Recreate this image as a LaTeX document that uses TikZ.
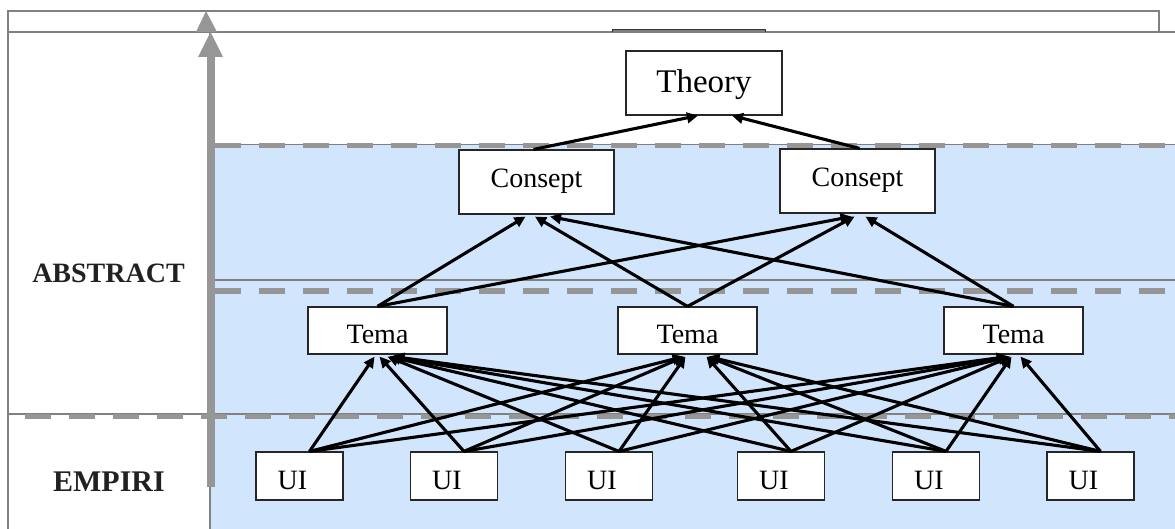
\documentclass[tikz,border=0pt]{standalone}
\usepackage{fontspec}
\setmainfont{Liberation Serif}
\usetikzlibrary{arrows.meta}
\definecolor{bluefill}{RGB}{209,230,252}
\definecolor{bargray}{RGB}{150,150,150}
\definecolor{linegray}{RGB}{128,128,128}
\begin{document}
\begin{tikzpicture}[x=1pt,y=-1pt,
  box/.style={draw=black!85, line width=1.2pt, fill=white, inner sep=0pt, font=\fontsize{28}{30}\selectfont},
  thinline/.style={draw=linegray, line width=1.5pt},
  dashline/.style={draw=bargray, line width=5.5pt, dash pattern=on 26pt off 18pt},
  conn/.style={draw=black, line width=3.1pt, -{Triangle[length=11pt,width=10.5pt]}},
  lvl/.style={font=\fontsize{28}{30}\selectfont\bfseries, text=black!87, inner sep=0pt}
]
\useasboundingbox (0,0) rectangle (1175,529);
\fill[bluefill] (210,145) rectangle (1175,529);
% frame lines
\draw[thinline] (8,529) -- (8,11) -- (1159,11) -- (1159,32);
\draw[thinline] (8,32) -- (1175,32);
\draw[thinline] (210,32) -- (210,529);
\draw[thinline] (215,144.5) -- (1175,144.5);
\draw[thinline] (215,280) -- (1175,280);
\draw[thinline] (8,414) -- (1175,414);
\draw[draw=black!80, fill=linegray, line width=0.8pt] (612,32) -- (612,29) -- (765,29) -- (765,32);
% dashed level lines
\draw[dashline] (215,145.5) -- (1175,145.5);
\draw[dashline] (215,291) -- (1175,291);
\draw[dashline] (25,416.5) -- (1175,416.5);
% vertical axis arrow
\fill[bargray] (206.5,56) rectangle (214.5,487);
\fill[bargray] (198,57) -- (223,57) -- (210.5,32) -- cycle;
\fill[bargray] (196,32) -- (217,32) -- (206,11) -- cycle;
% level labels
\node[lvl] (abs) at (108.5,273.5) {ABSTRACT};
\node[lvl, font=\fontsize{30}{32}\selectfont\bfseries] (emp) at (109,481.5) {EMPIRI};
% nodes
\node[box, minimum width=156pt, minimum height=64pt, font=\fontsize{33}{36}\selectfont, text height=24pt, text depth=4pt] (th) at (704,83) {Theory};
\node[box, minimum width=155pt, minimum height=64pt, text height=20pt, text depth=9.4pt] (cl) at (536.5,182) {Consept};
\node[box, minimum width=155pt, minimum height=64pt, text height=20pt, text depth=9.4pt] (cr) at (857.5,181) {Consept};
\node[box, minimum width=139pt, minimum height=47pt, text height=25.6pt, text depth=0pt] (tl) at (377.5,330.5) {Tema};
\node[box, minimum width=139pt, minimum height=47pt, text height=25.6pt, text depth=0pt] (tm) at (687.5,330.5) {Tema};
\node[box, minimum width=139pt, minimum height=47pt, text height=25.6pt, text depth=0pt] (tr) at (1013.5,330.5) {Tema};
\foreach \n/\x in {u1/299.5, u2/454, u3/609, u4/781, u5/936, u6/1090.5}
  \node[box, minimum width=87pt, minimum height=48pt, text height=26pt, text depth=0pt] (\n) at (\x,476) {UI\kern14pt};
% Consept -> Theory
\draw[conn] ([xshift=-3pt]cl.north) -- ([xshift=-6pt]th.south);
\draw[conn] ([xshift=2pt]cr.north) -- ([xshift=28pt]th.south);
% Tema -> Consept
\draw[conn] (tl.north) -- ([xshift=-11pt,yshift=-2pt]cl.south);
\draw[conn] (tm.north) -- ([xshift=-1.5pt,yshift=-2pt]cl.south);
\draw[conn] (tr.north) -- ([xshift=13.5pt,yshift=-2pt]cl.south);
\draw[conn] (tl.north) -- ([xshift=-6pt,yshift=-3pt]cr.south);
\draw[conn] (tm.north) -- ([xshift=-3pt,yshift=-3pt]cr.south);
\draw[conn] (tr.north) -- ([xshift=8pt,yshift=-3pt]cr.south);
% UI -> Tema
\foreach \u/\a/\b/\c in {u1/-3/-4/-6, u2/2/-3/-5, u3/10/-2/-4, u4/12/19/-3, u5/14/20/-2, u6/16/21/7} {
  \draw[conn] ([xshift=10pt]\u.north) -- ([xshift=\a pt,yshift=-2pt]tl.south);
  \draw[conn] ([xshift=10pt]\u.north) -- ([xshift=\b pt,yshift=-2pt]tm.south);
  \draw[conn] ([xshift=10pt]\u.north) -- ([xshift=\c pt,yshift=-2pt]tr.south);
}
\end{tikzpicture}
\end{document}
